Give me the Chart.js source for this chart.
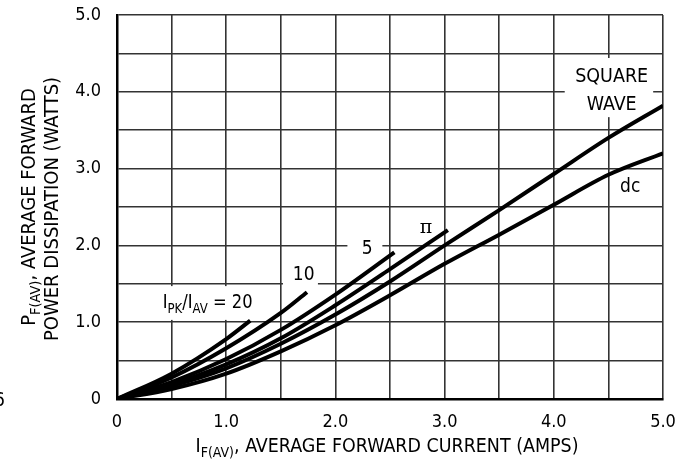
<!DOCTYPE html>
<html>
<head>
<meta charset="utf-8">
<script src="https://cdn.jsdelivr.net/npm/chart.js@4.4.1/dist/chart.umd.min.js"></script>
<style>
  html, body { margin: 0; padding: 0; background: #fff; }
  #wrap { width: 683px; height: 475px; position: relative; }
</style>
</head>
<body>
<div id="wrap"><canvas id="c" width="683" height="475"></canvas></div>
<script>
// ---- Data ----
const xTicks = [0, 1.0, 2.0, 3.0, 4.0, 5.0];
const yTicks = [0, 1.0, 2.0, 3.0, 4.0, 5.0];

const xDC = [0, 0.5, 1.0, 1.5, 2.0, 2.5, 3.0, 3.5, 4.0, 4.5, 5.0];
const yDC = [0, 0.13, 0.33, 0.62, 0.96, 1.35, 1.76, 2.14, 2.53, 2.92, 3.20];

const xSquare = [0, 0.5, 1.0, 1.5, 2.0, 2.5, 3.0, 3.5, 4.0, 4.5, 5.0];
const ySquare = [0, 0.17, 0.40, 0.72, 1.10, 1.53, 2.00, 2.46, 2.93, 3.40, 3.82];

const xPi = [0, 0.5, 1.0, 1.5, 2.0, 2.5, 3.03];
const yPi = [0, 0.19, 0.45, 0.79, 1.22, 1.69, 2.20];

const x5 = [0, 0.5, 1.0, 1.5, 2.0, 2.54];
const y5 = [0, 0.22, 0.52, 0.90, 1.36, 1.91];

const x10 = [0, 0.5, 1.0, 1.5, 1.74];
const y10 = [0, 0.28, 0.66, 1.12, 1.39];

const x20 = [0, 0.5, 1.0, 1.22];
const y20 = [0, 0.33, 0.78, 1.02];

const FONT = '"DejaVu Sans Condensed", "Liberation Sans Narrow", Arial, sans-serif';

function pts(xs, ys) { return xs.map((x, i) => ({ x: x, y: ys[i] })); }
function ds(label, xs, ys) {
  return {
    label: label, data: pts(xs, ys), borderColor: '#000', borderWidth: 4,
    pointRadius: 0, fill: false, cubicInterpolationMode: 'monotone', borderCapStyle: 'butt'
  };
}

function richWidth(ctx, parts, size) {
  let w = 0;
  parts.forEach(p => {
    ctx.font = (p[1] ? size * 0.72 : size) + 'px ' + FONT;
    w += ctx.measureText(p[0]).width;
  });
  return w;
}
// draw rich text centred at (x,y); optional target width squeezes horizontally
function drawRich(ctx, parts, x, y, size, target) {
  const w = richWidth(ctx, parts, size);
  const sx = target ? target / w : 1;
  ctx.save();
  ctx.translate(x, y);
  ctx.scale(sx, 1);
  let cx = -w / 2;
  ctx.textBaseline = 'middle';
  ctx.textAlign = 'left';
  parts.forEach(p => {
    const s = p[1] ? size * 0.72 : size;
    ctx.font = s + 'px ' + FONT;
    ctx.fillText(p[0], cx, p[1] ? size * 0.32 : 0);
    cx += ctx.measureText(p[0]).width;
  });
  ctx.restore();
}

const annot = {
  id: 'annot',
  beforeDatasetsDraw(chart) {
    const ctx = chart.ctx;
    const xs = chart.scales.x, ys = chart.scales.y;
    ctx.save();
    ctx.fillStyle = '#fff';
    const boxes = [
      [0.35, 1.03, 1.29, 1.47],   // IPK/IAV = 20
      [1.52, 1.45, 1.84, 1.78],   // 10
      [2.11, 1.78, 2.43, 2.14],   // 5
      [4.10, 3.67, 4.91, 4.44]    // SQUARE WAVE
    ];
    boxes.forEach(b => {
      const x0 = xs.getPixelForValue(b[0]), x1 = xs.getPixelForValue(b[2]);
      const y0 = ys.getPixelForValue(b[3]), y1 = ys.getPixelForValue(b[1]);
      ctx.fillRect(x0, y0, x1 - x0, y1 - y0);
    });
    ctx.restore();
  },
  afterDraw(chart) {
    const ctx = chart.ctx;
    const xs = chart.scales.x, ys = chart.scales.y;
    ctx.save();
    ctx.fillStyle = '#000';
    const P = (x, y) => [xs.getPixelForValue(x), ys.getPixelForValue(y)];
    let p;
    p = P(0.83, 1.25);
    drawRich(ctx, [['I', false], ['PK', true], ['/I', false], ['AV', true], [' = 20', false]], p[0], p[1], 19, 90);
    p = P(1.71, 1.62);
    drawRich(ctx, [['10', false]], p[0], p[1], 19);
    p = P(2.29, 1.95);
    drawRich(ctx, [['5', false]], p[0], p[1], 19);
    p = P(2.83, 2.23);
    ctx.font = '19px "DejaVu Serif", serif';
    ctx.textAlign = 'center'; ctx.textBaseline = 'middle';
    ctx.fillText('π', p[0], p[1]);
    p = P(4.53, 4.19);
    drawRich(ctx, [['SQUARE', false]], p[0], p[1], 20, 73);
    p = P(4.53, 3.83);
    drawRich(ctx, [['WAVE', false]], p[0], p[1], 20, 50);
    p = P(4.70, 2.76);
    drawRich(ctx, [['dc', false]], p[0], p[1], 19);

    // x axis title
    drawRich(ctx, [['I', false], ['F(AV)', true], [', AVERAGE FORWARD CURRENT (AMPS)', false]],
      387, 447, 20, 383);

    // y axis title (rotated, two lines, same font)
    ctx.save();
    ctx.translate(30, 207);
    ctx.rotate(-Math.PI / 2);
    drawRich(ctx, [['P', false], ['F(AV)', true], [', AVERAGE FORWARD', false]], 0, 0, 20);
    ctx.restore();
    ctx.save();
    ctx.translate(53, 209);
    ctx.rotate(-Math.PI / 2);
    drawRich(ctx, [['POWER DISSIPATION (WATTS)', false]], 0, 0, 20);
    ctx.restore();

    // stray clipped character at the left edge
    ctx.font = '19px ' + FONT;
    ctx.textAlign = 'left'; ctx.textBaseline = 'middle';
    ctx.fillText('6', -6, 401);
    ctx.restore();
  }
};

new Chart(document.getElementById('c'), {
  type: 'line',
  data: {
    datasets: [
      ds('dc', xDC, yDC),
      ds('Square Wave', xSquare, ySquare),
      ds('π', xPi, yPi),
      ds('5', x5, y5),
      ds('10', x10, y10),
      ds('20', x20, y20)
    ]
  },
  options: {
    responsive: false,
    animation: false,
    layout: { padding: { left: 0, top: 15, right: 20, bottom: 0 } },
    plugins: { legend: { display: false }, tooltip: { enabled: false } },
    scales: {
      x: {
        type: 'linear', min: 0, max: 5,
        afterFit(s) { s.height = 76; s.paddingLeft = 0; s.paddingRight = 0; },
        ticks: {
          stepSize: 0.5, autoSkip: false, maxRotation: 0, padding: 13,
          color: '#000', font: { family: FONT, size: 18 },
          callback: v => xTicks.includes(v) ? (v === 0 ? '0' : v.toFixed(1)) : ''
        },
        grid: { color: '#333', lineWidth: 1.6, drawTicks: false },
        border: { color: '#000', width: 2.5 }
      },
      y: {
        type: 'linear', min: 0, max: 5,
        afterFit(s) { s.width = 117; s.paddingTop = 0; s.paddingBottom = 0; },
        ticks: {
          stepSize: 0.5, autoSkip: false, padding: 16,
          color: '#000', font: { family: FONT, size: 18 },
          callback: v => yTicks.includes(v) ? (v === 0 ? '0' : v.toFixed(1)) : ''
        },
        grid: { color: '#333', lineWidth: 1.6, drawTicks: false },
        border: { color: '#000', width: 2.5 }
      }
    }
  },
  plugins: [annot]
});
</script>
</body>
</html>
